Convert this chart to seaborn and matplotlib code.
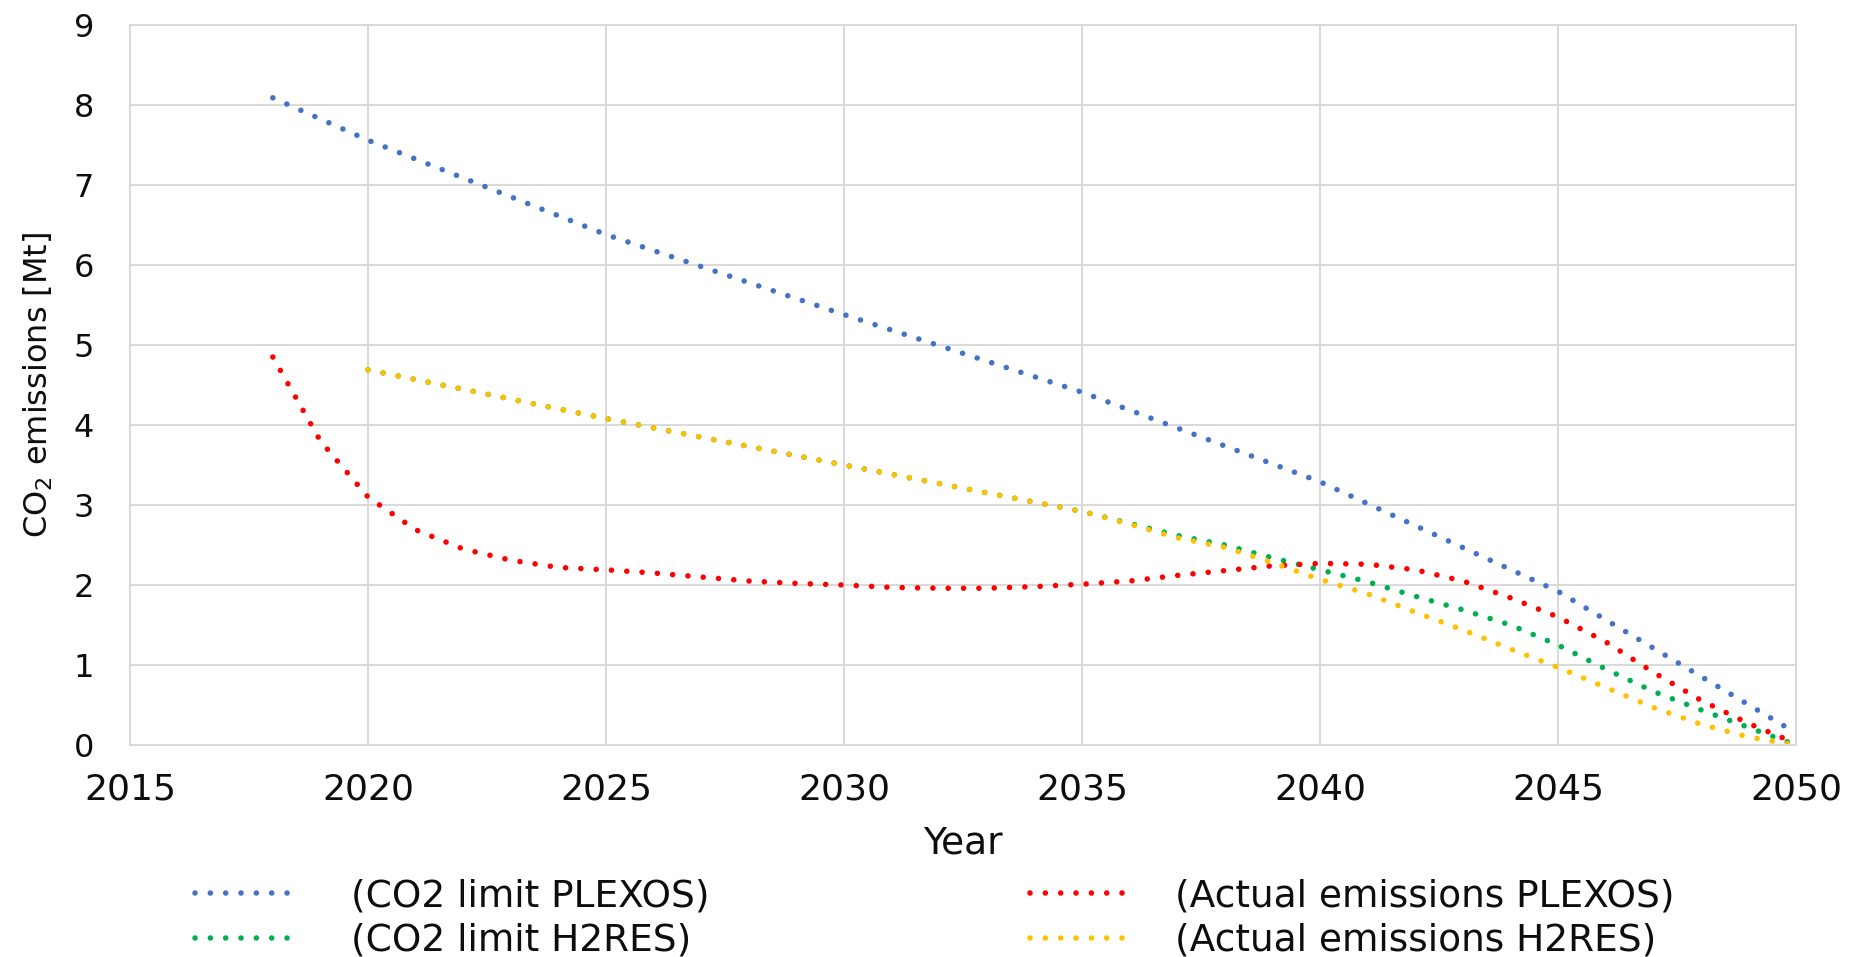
import matplotlib
matplotlib.use("Agg")
import matplotlib.pyplot as plt
import seaborn as sns
import pandas as pd

# CO2 limit used in PLEXOS (Mt)
years_limit_plexos = [2018, 2020, 2025, 2030, 2035, 2040, 2045, 2050]
co2_limit_plexos = [8.09, 7.56, 6.38, 5.38, 4.41, 3.29, 1.92, 0.15]

# CO2 limit used in H2RES (Mt)
years_h2res = [2020, 2025, 2030, 2035, 2036, 2037, 2038, 2039, 2040,
               2041, 2042, 2043, 2044, 2045, 2046, 2047, 2048, 2049, 2050]
co2_limit_h2res = [4.69, 4.08, 3.50, 2.92, 2.77, 2.62, 2.50, 2.34, 2.19,
                   2.04, 1.86, 1.69, 1.50, 1.25, 0.95, 0.67, 0.44, 0.22, 0.0]

# Actual emissions from PLEXOS (Mt)
years_actual_plexos = list(range(2018, 2051))
actual_plexos = [4.85, 3.80, 3.10, 2.69, 2.45, 2.31, 2.22, 2.19, 2.15, 2.10,
                 2.05, 2.02, 2.00, 1.97, 1.96, 1.96, 1.98, 2.01, 2.05, 2.12,
                 2.18, 2.24, 2.27, 2.26, 2.19, 2.05, 1.84, 1.60, 1.29, 0.91,
                 0.56, 0.27, 0.02]

# Actual emissions from H2RES (Mt)
actual_h2res = [4.69, 4.08, 3.50, 2.92, 2.76, 2.59, 2.47, 2.28, 2.07,
                1.89, 1.66, 1.44, 1.20, 0.97, 0.72, 0.47, 0.26, 0.10, 0.0]

labels = ["(CO2 limit PLEXOS)", "(CO2 limit H2RES)",
          "(Actual emissions PLEXOS)", "(Actual emissions H2RES)"]
colors = ["#4472C4", "#00B050", "#FF0000", "#FFC000"]

x_ticks = [2015, 2020, 2025, 2030, 2035, 2040, 2045, 2050]
y_ticks = [0, 1, 2, 3, 4, 5, 6, 7, 8, 9]

sns.set_theme(style="whitegrid")
plt.rcParams["font.family"] = ["DejaVu Sans"]
grid_col = "#D9D9D9"
text_col = "#0d0d0d"

fig = plt.figure(figsize=(18.52, 9.57), dpi=100)
ax = fig.add_axes([0.0702, 0.2215, 0.8996, 0.7524])

series = [
    (years_limit_plexos, co2_limit_plexos),
    (years_h2res, co2_limit_h2res),
    (years_actual_plexos, actual_plexos),
    (years_h2res, actual_h2res),
]
dot_style = (0, (0.01, 2.75))
handles = []
for (xs, ys), lab, col in zip(series, labels, colors):
    df = pd.DataFrame({"Year": xs, "Emissions": ys})
    sns.lineplot(data=df, x="Year", y="Emissions", ax=ax, color=col,
                 linewidth=4.0, linestyle=dot_style, dash_capstyle="round",
                 label=lab, legend=False, sort=False)
    handles.append(ax.lines[-1])

ax.set_xlim(2015, 2050)
ax.set_ylim(0, 9)
ax.set_xticks(x_ticks)
ax.set_yticks(y_ticks)
ax.grid(True, color=grid_col, linewidth=1.4)
for sp in ax.spines.values():
    sp.set_color(grid_col)
    sp.set_linewidth(1.4)
ax.tick_params(axis="x", length=0, pad=20, labelsize=26, labelcolor=text_col)
ax.tick_params(axis="y", length=0, pad=26, labelsize=23, labelcolor=text_col)

ax.set_xlabel("Year", fontsize=27, color=text_col)
ax.set_ylabel("CO$_2$ emissions [Mt]", fontsize=23, color=text_col)
ax.xaxis.set_label_coords(0.5, -0.112)
ax.yaxis.set_label_coords(-0.045, 0.5)

leg_kw = dict(frameon=False, fontsize=27, loc="upper left", borderpad=0,
              borderaxespad=0, handlelength=2.72, labelspacing=0.24,
              labelcolor=text_col)
fig.legend(handles[:2], labels[:2], bbox_to_anchor=(195 / 1852, 1 - 878 / 957),
           handletextpad=1.45, **leg_kw)
fig.legend(handles[2:], labels[2:], bbox_to_anchor=(1030 / 1852, 1 - 878 / 957),
           handletextpad=1.15, **leg_kw)

fig.savefig("out.png", dpi=100)
